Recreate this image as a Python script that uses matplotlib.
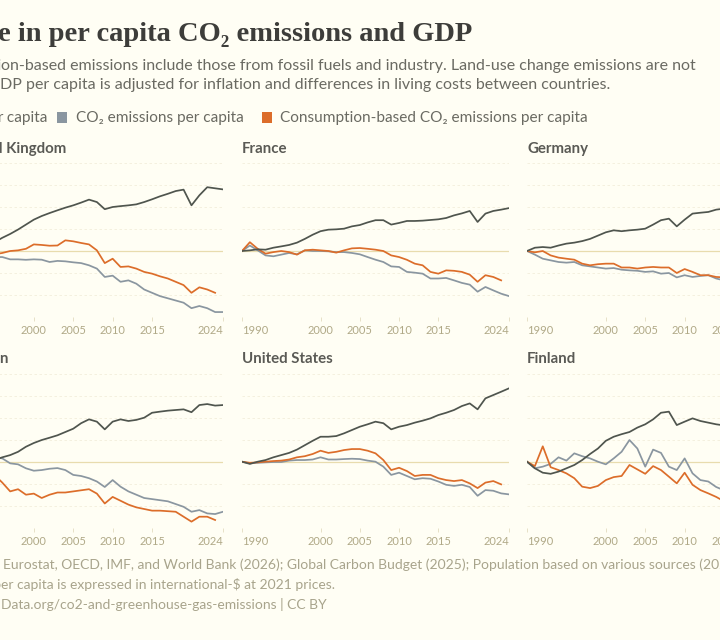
import matplotlib
matplotlib.use("Agg")
import matplotlib.pyplot as plt
from matplotlib.patches import Rectangle
import numpy as np

# ---------------- data (relative change since 1990, %) ----------------
years = list(range(1990, 2025))
years_cons = list(range(1990, 2024))

countries = ["United Kingdom", "France", "Germany", "Sweden", "United States", "Finland"]

uk_gdp = [0, -1.5, -1, 1, 4.5, 8, 12, 15.5, 19.5, 24, 28.5, 31.8, 34.5, 37, 39.4, 41.5, 44, 46.7,
          44.5, 38, 40, 40.8, 41.5, 42.4, 44.5, 47, 49.7, 52, 54.5, 55.8, 41.5, 50.6, 58, 57, 56]
uk_co2 = [0, 1, -1.5, -3.5, -4.5, -5.5, -5.5, -7.6, -7.6, -8, -7.6, -7.9, -10, -9, -9.4, -10.3, -11,
          -13, -16, -23.6, -22.4, -28, -26.7, -29.7, -35, -38, -41, -43, -45, -47, -52, -50, -52, -55.5, -55.5]
uk_cons = [0, 0, -1.5, -2.5, -2.5, -3, -1.8, 0, 0.6, 2, 6, 5.5, 4.8, 5, 9.7, 8.8, 7.3, 6, 0.6, -11,
           -7, -14.5, -14, -16, -19, -20.6, -23, -25, -28, -31, -38, -33, -35, -38]

fr_gdp = [0, 0.6, 1.5, 1.2, 3, 4.2, 5.5, 7.6, 11, 14.8, 18, 19.4, 19.7, 20.3, 22.4, 23.6, 26, 28, 28,
          24, 25.5, 27.3, 27.3, 27.6, 28.2, 28.8, 30, 32.4, 34.2, 36.4, 26.4, 34, 36.4, 37.6, 39]
fr_co2 = [0, 5, 0.6, -4, -4.8, -3.3, -1.8, -3, 0.6, 0, 0, -0.3, -1, -1, -1.8, -3, -5.5, -7.9, -10, -14,
          -14.5, -19, -19.7, -20.6, -25, -25, -24.5, -26.7, -29, -30.6, -37, -32.7, -35.8, -38.8, -41]
fr_cons = [0, 8, 2, -2.4, -1, 0, -1, -3.3, 0.6, 1.2, 0.6, 0, -1.5, 0.6, 2.4, 2.7, 2, 1.2, 0, -4, -5.5,
           -8, -11.5, -13, -19, -20.6, -17.6, -18, -19, -21.5, -28, -22, -23.6, -26.7]

de_gdp = [0, 3, 3.6, 3, 5, 6.7, 7.6, 9, 11, 14, 17, 18.8, 18, 18.8, 19.4, 20.3, 24, 28, 29.4, 22.4,
          28.5, 34, 34.8, 35.5, 37.6, 38.5, 40, 42, 43, 44, 40, 43, 44, 43, 42]
de_co2 = [0, -3.3, -7, -8.5, -10, -10.6, -10, -13, -14, -15, -16, -15.5, -17, -17.6, -18, -19, -18.5,
          -20.6, -20, -24, -22, -23.6, -22.7, -22, -25, -26.7, -27, -29, -32, -37, -42, -40, -42, -48, -51]
de_cons = [0, -1.2, 0, -4, -6, -7, -7.9, -11.5, -13, -12, -11.5, -11.5, -15, -15, -16, -15, -14.5, -15,
           -15, -20, -16.4, -19, -22, -22, -23.6, -24, -24, -25, -28, -32, -38, -35, -37, -43]

se_gdp = [0, -1.5, -3, -4.5, -2, 1.5, 4, 6, 9, 13.6, 17, 19.7, 21.8, 24, 27, 30, 35, 38.5, 36.4, 29.4,
          36.4, 38.5, 37, 38, 40, 44.5, 45.5, 46.4, 47, 47.6, 45, 51.5, 52.4, 51, 51.5]
se_co2 = [0, -1, -1, -2, 2, 4, 3, -1.5, -2.4, -6, -8.2, -7.6, -6.4, -5.8, -7.6, -12, -13, -15, -18, -23,
          -16.7, -22.7, -27, -30, -33, -34, -35, -36, -38.5, -41, -45.5, -44, -47, -47.6, -45.5]
se_cons = [0, -2, -5, -8, -6, -12, -19, -27, -25, -30, -29, -33, -30, -28, -28, -27, -26, -25, -29, -38,
           -32, -35.5, -39, -41.5, -43, -44.5, -44.5, -45, -45.5, -50, -54.5, -50, -50, -53]

us_gdp = [0, -2, 0, 1.5, 4, 6, 8, 11, 15, 19, 22.7, 22.7, 23.3, 25.8, 28.8, 31.8, 34, 36.4, 35, 29.4,
          31.8, 33.3, 35.5, 37.3, 39.4, 42.4, 44.5, 47, 50.6, 53, 47.6, 57.6, 60.6, 63.6, 66.7]
us_co2 = [0, -1.5, -1, -0.6, -0.3, -0.3, 1, 1.5, 1.5, 2, 4, 2, 2, 2.4, 2.7, 2.4, 1, 0, -4.5, -12, -10,
          -13, -16, -15, -15.5, -18, -21, -22, -21, -23, -31, -25.8, -26.4, -28.8, -29.7]
us_cons = [0, -1, -0.6, 0, 0.6, 1, 2, 4, 5, 7, 10, 8, 9, 10.6, 11.5, 11.5, 10, 7.6, 1.5, -7.6, -5.5,
           -8.5, -13, -12, -12, -15, -16.7, -17.6, -16.7, -19.7, -24, -19, -17.6, -20.6]

fi_gdp = [0, -6, -10, -11, -9, -6, -3, 1.5, 7, 12, 19, 22.7, 25, 27, 31, 34, 38.5, 44.5, 45.5, 33.3,
          36.4, 39.4, 37, 35.5, 34, 33, 35, 38, 40, 41, 39, 42, 43, 42, 42]
fi_co2 = [0, -6, -4.5, -2, 4, 1, 7.6, 5, 3, 0, -2.4, 3, 9, 19.7, 12, -4.5, 11, 8, -4.5, -7.6, 3, -10.6,
          -16.7, -18, -23, -26, -22, -27, -26, -32, -40, -38, -43, -48, -50]
fi_cons = [0, -4, 14, -5, -7.6, -10.6, -15, -22.7, -24, -22, -16.7, -14, -13, -3, -7, -11, -4, -7.6,
           -13.6, -19.7, -10, -21, -25.8, -28.8, -32, -36, -35, -38, -37, -42, -48, -47, -52, -55]

gdp_series = [uk_gdp, fr_gdp, de_gdp, se_gdp, us_gdp, fi_gdp]
co2_series = [uk_co2, fr_co2, de_co2, se_co2, us_co2, fi_co2]
cons_series = [uk_cons, fr_cons, de_cons, se_cons, us_cons, fi_cons]

x_ticks = [1990, 2000, 2005, 2010, 2015, 2024]
y_grid = [-60, -40, -20, 20, 40, 60, 80]

# ---------------- style ----------------
BG = "#fffef4"
C_GDP = "#4f554e"
C_CO2 = "#8a96a0"
C_CONS = "#dc6d2a"
C_TITLE = "#3d3d3a"
C_SUB = "#6a6a62"
C_TICK = "#b0a987"
C_FOOT = "#a8a48c"
SANS = ["Lato", "DejaVu Sans"]
SERIF = ["Liberation Serif", "DejaVu Serif"]

W, H = 720, 640
fig = plt.figure(figsize=(W / 100, H / 100), dpi=100, facecolor=BG)


def fx(x):
    return x / W


def fy(y):
    return 1 - y / H


def split_text(x, y, pre, post, **kw):
    fig.text(fx(x), fy(y), pre, ha="right", va="baseline", **kw)
    fig.text(fx(x), fy(y), post, ha="left", va="baseline", **kw)


# title
split_text(-2, 41, "Chang", "e in per capita CO₂ emissions and GDP",
           fontsize=20.5, family=SERIF, color=C_TITLE, fontweight="bold")
# subtitle
split_text(1, 70, "Consumpti",
           "on-based emissions include those from fossil fuels and industry. Land-use change emissions are not",
           fontsize=11.5, family=SANS, color=C_SUB)
split_text(0, 89, "included. G",
           "DP per capita is adjusted for inflation and differences in living costs between countries.",
           fontsize=11.5, family=SANS, color=C_SUB)

# legend
split_text(3, 122, "GDP per", " capita", fontsize=11.1, family=SANS, color=C_SUB)
fig.patches.append(Rectangle((fx(57), fy(123)), fx(10), 11 / H, transform=fig.transFigure,
                             facecolor=C_CO2, edgecolor="none"))
fig.text(fx(76), fy(122), "CO₂ emissions per capita", ha="left", va="baseline",
         fontsize=11.1, family=SANS, color=C_SUB)
fig.patches.append(Rectangle((fx(262), fy(123)), fx(10), 11 / H, transform=fig.transFigure,
                             facecolor=C_CONS, edgecolor="none"))
fig.text(fx(280), fy(122), "Consumption-based CO₂ emissions per capita", ha="left", va="baseline",
         fontsize=11.1, family=SANS, color=C_SUB)

# panels
col_x = [(-45, 223), (242, 509), (527, 795)]
row_y = [(163, 317), (373.7, 527.7)]
title_y = [153, 363]

for i, name in enumerate(countries):
    r, c = divmod(i, 3)
    x0, x1 = col_x[c]
    y0, y1 = row_y[r]
    ax = fig.add_axes([fx(x0), fy(y1), fx(x1 - x0), (y1 - y0) / H])
    ax.set_facecolor("none")
    ax.set_xlim(1990, 2024)
    ax.set_ylim(-60, 80)
    for g in y_grid:
        ax.axhline(g, color="#f3eedb", lw=0.6, ls=(0, (3, 3)), zorder=0)
    ax.axhline(0, color="#e8dcae", lw=0.9, zorder=1)
    ax.plot(years, gdp_series[i], color=C_GDP, lw=1.25, zorder=4, solid_joinstyle="round")
    ax.plot(years, co2_series[i], color=C_CO2, lw=1.25, zorder=3, solid_joinstyle="round")
    ax.plot(years_cons, cons_series[i], color=C_CONS, lw=1.25, zorder=3, solid_joinstyle="round")
    for s in ax.spines.values():
        s.set_visible(False)
    ax.set_yticks([])
    ax.set_xticks(x_ticks)
    ax.set_xticklabels([str(t) for t in x_ticks], family=SANS, fontsize=8, color=C_TICK)
    ax.tick_params(axis="x", length=3, width=0.6, color="#e3dcc0", pad=3)
    labs = ax.get_xticklabels()
    labs[0].set_ha("left")
    labs[-1].set_ha("right")
    # panel title
    if c == 0:
        pre, post = (("Unite", "d Kingdom") if r == 0 else ("Swede", "n"))
        anchor = -6 if r == 0 else -1
        split_text(anchor, title_y[r], pre, post, fontsize=10.8, family=SANS,
                   color="#5a5a55", fontweight="bold")
    else:
        fig.text(fx(x0), fy(title_y[r]), name, ha="left", va="baseline", fontsize=10.8,
                 family=SANS, color="#5a5a55", fontweight="bold")

# footer
split_text(3, 569, "Data source: ",
           "Eurostat, OECD, IMF, and World Bank (2026); Global Carbon Budget (2025); Population based on various sources (2024)",
           fontsize=10, family=SANS, color=C_FOOT)
split_text(1, 589, "Note: GDP p", "er capita is expressed in international-$ at 2021 prices.",
           fontsize=10, family=SANS, color=C_FOOT)
split_text(1, 609, "OurWorldin", "Data.org/co2-and-greenhouse-gas-emissions | CC BY",
           fontsize=10, family=SANS, color=C_FOOT)

fig.savefig("out.png", dpi=100, facecolor=BG)
